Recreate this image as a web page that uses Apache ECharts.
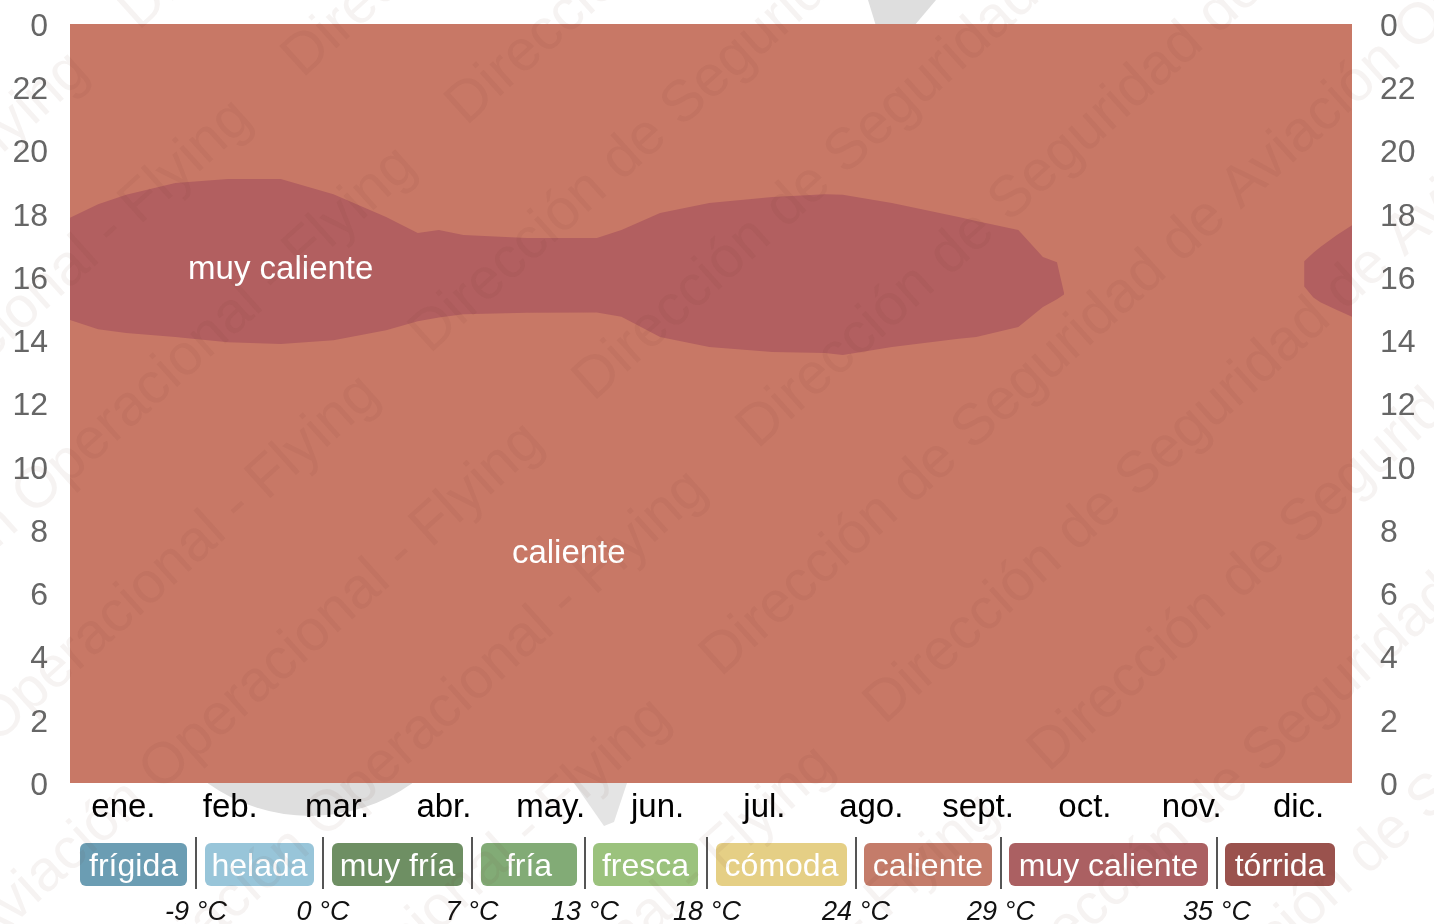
<!DOCTYPE html>
<html><head><meta charset="utf-8">
<script src="https://cdn.jsdelivr.net/npm/echarts@6/dist/echarts.min.js"></script>
<style>html,body{margin:0;padding:0;background:#fff}#c{width:1434px;height:924px}</style>
</head><body><div id="c"></div>
<script>
// ---- data ----
const months = ['ene.','feb.','mar.','abr.','may.','jun.','jul.','ago.','sept.','oct.','nov.','dic.'];
// caliente: whole year, whole day
const calienteDays = [0, 365];
const calienteUpper = [24, 24];
const calienteLower = [0, 0];
// muy caliente main band (day of year, hour)
const mainBandDays  = [0, 8, 16, 30, 45, 60, 75, 90, 99, 105, 112, 130, 150, 157, 168, 182, 200, 215, 220, 234, 253, 258, 270, 277, 281, 283];
const mainBandUpper = [17.87, 18.3, 18.6, 18.97, 19.1, 19.1, 18.62, 17.9, 17.39, 17.49, 17.33, 17.23, 17.23, 17.49, 18.02, 18.34, 18.53, 18.62, 18.6, 18.34, 17.9, 17.77, 17.49, 16.63, 16.47, 15.5];
const mainBandLower = [14.64, 14.35, 14.23, 14.1, 13.94, 13.88, 14.0, 14.32, 14.6, 14.72, 14.82, 14.87, 14.88, 14.74, 14.1, 13.79, 13.63, 13.6, 13.53, 13.79, 14.05, 14.1, 14.42, 15.05, 15.3, 15.45];
// muy caliente band at end of year
const endBandDays  = [351.4, 354, 356, 360.7, 365];
const endBandUpper = [16.5, 16.77, 16.95, 17.33, 17.64];
const endBandLower = [15.7, 15.35, 15.2, 14.96, 14.74];
// region labels
const regionLabels = ['muy caliente', 'caliente'];
const regionLabelDays = [60, 142];
const regionLabelHours = [16.3, 7.3];
// legend
const legendNames = ['frígida','helada','muy fría','fría','fresca','cómoda','caliente','muy caliente','tórrida'];
const legendColors = ['#6B9DB3','#98C5D9','#6E8F63','#82AB76','#9BC27D','#E5CF85','#C47C6A','#AB6062','#9A524D'];
const thresholdLabels = ['-9 °C','0 °C','7 °C','13 °C','18 °C','24 °C','29 °C','35 °C'];

// ---- styles / layout ----
const COL_CALIENTE = '#C87866';
const COL_MUY = '#B25F60';
const FONT = '"Liberation Sans", Arial, Helvetica, sans-serif';
const legendBoxes = [[80,187],[205,314],[332,463],[481,577],[593,698],[716,847],[864,992],[1009,1208],[1225,1335]];

function polySeries(days, upper, lower, color) {
  return {
    type: 'custom', xAxisIndex: 0, yAxisIndex: 0, silent: true, clip: true,
    data: [[0, 0]],
    renderItem(params, api) {
      const pts = [];
      for (let i = 0; i < days.length; i++) pts.push(api.coord([days[i], upper[i]]));
      for (let i = days.length - 1; i >= 0; i--) pts.push(api.coord([days[i], lower[i]]));
      return { type: 'polygon', shape: { points: pts }, style: { fill: color } };
    }
  };
}

const graphics = [];
// faint background logo pieces (visible parts outside the plot)
graphics.push({ type: 'polygon', z: -10, silent: true, shape: { points: [[868,0],[936,0],[914,26],[876,26]] }, style: { fill: '#DEDEDE' } });
graphics.push({ type: 'polygon', z: -10, silent: true, shape: { points: [[572,780],[628,780],[614,822],[604,826]] }, style: { fill: '#E4E4E4' } });

legendNames.forEach((n, i) => {
  const [x0, x1] = legendBoxes[i];
  graphics.push({ type: 'rect', shape: { x: x0, y: 843, width: x1 - x0, height: 43, r: 6 }, style: { fill: legendColors[i] }, silent: true });
  graphics.push({ type: 'text', x: (x0 + x1) / 2, y: 867, style: { text: n, fill: '#fff', font: '32px ' + FONT, align: 'center', verticalAlign: 'middle' }, silent: true });
});
thresholdLabels.forEach((t, i) => {
  const sx = Math.round((legendBoxes[i][1] + legendBoxes[i + 1][0]) / 2);
  graphics.push({ type: 'line', shape: { x1: sx, y1: 837, x2: sx, y2: 889 }, style: { stroke: '#555', lineWidth: 2 }, silent: true });
  graphics.push({ type: 'text', x: sx, y: 912, style: { text: t, fill: '#111', font: 'italic 27px ' + FONT, align: 'center', verticalAlign: 'middle' }, silent: true });
});
// watermark
const wmText = 'Escuela de Seguridad de Aviación Operacional - Flying    Dirección de Seguridad de Aviación Operacional -    ';
const ang = 42 * Math.PI / 180;
const dx = Math.cos(ang), dy = -Math.sin(ang), nx = Math.sin(ang), ny = Math.cos(ang);
for (let k = -8; k < 14; k++) {
  const off = 245 + 145 * (k - 1);
  const px = nx * off - 1400 * dx, py = ny * off - 1400 * dy;
  graphics.push({ type: 'text', x: px + (k % 3) * 90 * dx, y: py + (k % 3) * 90 * dy, rotation: ang, z: 100, silent: true,
    style: { text: wmText.repeat(3), fill: 'rgba(110,45,35,0.06)', font: '58px ' + FONT, verticalAlign: 'middle' } });
}
// lower logo disc piece below the plot
graphics.push({ type: 'sector', z: 1, silent: true,
  shape: { cx: 310, cy: 640, r: 176, startAngle: 54.5 * Math.PI / 180, endAngle: 125.5 * Math.PI / 180 },
  style: { fill: '#DEDEDE' } });

const yLabel = {
  formatter: v => '{a|' + (v % 24) + '}',
  rich: { a: { color: '#666', fontSize: 32, fontFamily: FONT, padding: [6, 0, 0, 0] } }
};

const chart = echarts.init(document.getElementById('c'), null, { renderer: 'canvas' });
chart.setOption({
  animation: false,
  backgroundColor: '#fff',
  grid: { left: 70, right: 82, top: 24, bottom: 141, containLabel: false },
  xAxis: [
    { type: 'value', min: 0, max: 365, show: false },
    { type: 'category', data: months, position: 'bottom', boundaryGap: true, z: 20,
      axisLine: { show: false }, axisTick: { show: false }, splitLine: { show: false },
      axisLabel: { color: '#000', fontSize: 33, fontFamily: FONT, margin: 8 } }
  ],
  yAxis: [
    { type: 'value', min: 0, max: 24, interval: 2, position: 'left',
      axisLine: { show: false }, axisTick: { show: false }, splitLine: { show: false },
      axisLabel: Object.assign({ margin: 22 }, yLabel) },
    { type: 'value', min: 0, max: 24, interval: 2, position: 'right',
      axisLine: { show: false }, axisTick: { show: false }, splitLine: { show: false },
      axisLabel: Object.assign({ margin: 28 }, yLabel) }
  ],
  series: [
    polySeries(calienteDays, calienteUpper, calienteLower, COL_CALIENTE),
    polySeries(mainBandDays, mainBandUpper, mainBandLower, COL_MUY),
    polySeries(endBandDays, endBandUpper, endBandLower, COL_MUY),
    {
      type: 'custom', xAxisIndex: 0, yAxisIndex: 0, silent: true,
      data: regionLabels.map((l, i) => [regionLabelDays[i], regionLabelHours[i]]),
      renderItem(params, api) {
        const p = api.coord([api.value(0), api.value(1)]);
        return { type: 'text', x: p[0], y: p[1] + 2, style: { text: regionLabels[params.dataIndex], fill: '#fff', font: '33px ' + FONT, align: 'center', verticalAlign: 'middle' } };
      }
    }
  ],
  graphic: graphics
});
</script>
</body></html>
